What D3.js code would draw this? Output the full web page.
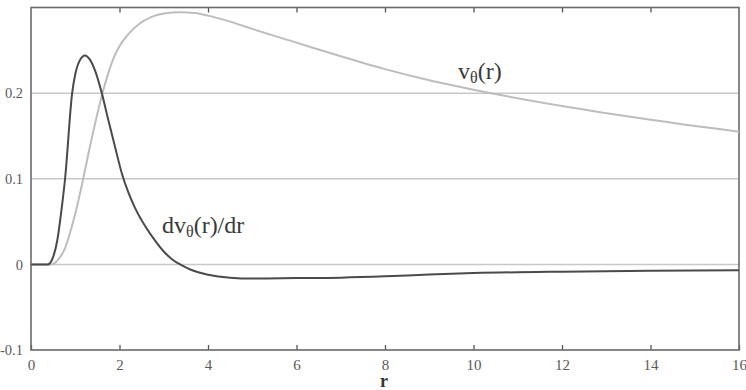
<!DOCTYPE html>
<html>
<head>
<meta charset="utf-8">
<script src="https://cdn.jsdelivr.net/npm/d3@7"></script>
<style>
  body { margin: 0; background: #fff; }
  svg { display: block; }
</style>
</head>
<body>
<div id="chart"></div>
<script>
// data
var xTicks = [0, 2, 4, 6, 8, 10, 12, 14, 16],
    yTicks = [-0.1, 0, 0.1, 0.2],
    gridVals = [0, 0.1, 0.2];

// v_theta(r), light curve
var rV = [0, 0.45, 0.55, 0.65, 0.77, 0.9, 1.05, 1.18, 1.3, 1.45, 1.6, 1.75, 1.9, 2.05, 2.2, 2.45, 2.7, 3.0, 3.37, 3.7, 4, 4.5, 5, 6, 7, 8, 9, 10, 12, 14, 16],
    vTheta = [0, 0, 0.002, 0.008, 0.019, 0.04, 0.07, 0.1, 0.13, 0.165, 0.197, 0.224, 0.245, 0.259, 0.269, 0.281, 0.2885, 0.293, 0.2945, 0.2935, 0.2905, 0.2835, 0.275, 0.259, 0.243, 0.228, 0.215, 0.204, 0.185, 0.169, 0.155];

// dv_theta/dr, dark curve
var rD = [0, 0.38, 0.48, 0.59, 0.68, 0.77, 0.93, 1.0, 1.1, 1.22, 1.32, 1.45, 1.6, 1.75, 1.9, 2.06, 2.2, 2.35, 2.6, 2.8, 3.0, 3.2, 3.4, 3.6, 3.8, 4.0, 4.5, 5, 6, 7, 8, 9, 10, 12, 14, 16],
    dvDr = [0, 0, 0.006, 0.027, 0.06, 0.1, 0.2, 0.222, 0.238, 0.244, 0.24, 0.226, 0.2, 0.168, 0.137, 0.105, 0.084, 0.066, 0.043, 0.028, 0.015, 0.0055, -0.001, -0.006, -0.0095, -0.012, -0.0155, -0.0165, -0.016, -0.0155, -0.014, -0.0118, -0.0102, -0.0085, -0.0075, -0.007];

var svgWidth = 746, svgHeight = 390,
    plotLeft = 31, plotRight = 739, plotTop = 7.5, plotBottom = 350;

var svg = d3.select('#chart').append('svg')
  .attr('width', svgWidth)
  .attr('height', svgHeight);

var x = d3.scaleLinear().domain([0, 16]).range([plotLeft, plotRight]);
var y = d3.scaleLinear().domain([-0.1, 0.3]).range([plotBottom, plotTop]);

// grid
svg.selectAll('line.grid')
  .data(gridVals)
  .enter().append('line')
  .attr('class', 'grid')
  .attr('x1', plotLeft).attr('x2', plotRight)
  .attr('y1', function(d){ return y(d); })
  .attr('y2', function(d){ return y(d); })
  .attr('stroke', '#c8c8c8')
  .attr('stroke-width', 1.5);

// bottom axis, ticks pointing up
var xAxis = svg.append('g')
  .attr('transform', 'translate(0,' + plotBottom + ')')
  .call(d3.axisBottom(x).tickValues(xTicks).tickSizeInner(-5).tickSizeOuter(0).tickPadding(9));
xAxis.select('.domain').remove();
xAxis.selectAll('line').attr('stroke', '#555').attr('stroke-width', 1.3);
xAxis.selectAll('text')
  .attr('font-family', '"Liberation Serif", serif')
  .attr('font-size', 15)
  .attr('fill', '#5a5a5a');

// top ticks pointing down
var xTop = svg.append('g')
  .attr('transform', 'translate(0,' + plotTop + ')')
  .call(d3.axisTop(x).tickValues(xTicks.slice(1, -1)).tickSizeInner(-5).tickSizeOuter(0).tickFormat(''));
xTop.select('.domain').remove();
xTop.selectAll('line').attr('stroke', '#555').attr('stroke-width', 1.3);

// left labels (plain hyphen for the minus, like the original)
var fmt = d3.format('.1~f');
var yAxis = svg.append('g')
  .attr('transform', 'translate(' + plotLeft + ',0)')
  .call(d3.axisLeft(y).tickValues(yTicks).tickSize(0).tickPadding(8)
    .tickFormat(function(d){ return fmt(d).replace('\u2212', '-'); }));
yAxis.select('.domain').remove();
yAxis.selectAll('text')
  .attr('font-family', '"Liberation Serif", serif')
  .attr('font-size', 14.5)
  .attr('fill', '#5a5a5a');

// frame
svg.append('rect')
  .attr('x', plotLeft).attr('y', plotTop)
  .attr('width', plotRight - plotLeft).attr('height', plotBottom - plotTop)
  .attr('fill', 'none')
  .attr('stroke', '#6a6a6a')
  .attr('stroke-width', 1.6);

var line = d3.line()
  .x(function(d){ return x(d[0]); })
  .y(function(d){ return y(d[1]); })
  .curve(d3.curveMonotoneX);

svg.append('path')
  .datum(d3.zip(rV, vTheta))
  .attr('d', line)
  .attr('fill', 'none')
  .attr('stroke', '#bdbdbd')
  .attr('stroke-width', 2);

svg.append('path')
  .datum(d3.zip(rD, dvDr))
  .attr('d', line)
  .attr('fill', 'none')
  .attr('stroke', '#4a4a4a')
  .attr('stroke-width', 2);

// curve labels
function label(px, py, pre, post) {
  var t = svg.append('text')
    .attr('x', px).attr('y', py)
    .attr('font-family', '"Liberation Serif", serif')
    .attr('font-size', 24)
    .attr('fill', '#3a3a3a');
  t.append('tspan').text(pre);
  t.append('tspan').attr('font-size', 16).attr('dy', 4).text('θ');
  t.append('tspan').attr('dy', -4).text(post);
}
label(x(9.65), 79, 'v', '(r)');
label(x(2.96), 233, 'dv', '(r)/dr');

// axis title
svg.append('text')
  .attr('x', x(7.98)).attr('y', 387)
  .attr('text-anchor', 'middle')
  .attr('font-family', '"Liberation Serif", serif')
  .attr('font-weight', 'bold')
  .attr('font-size', 18)
  .attr('fill', '#333')
  .text('r');
</script>
</body>
</html>
